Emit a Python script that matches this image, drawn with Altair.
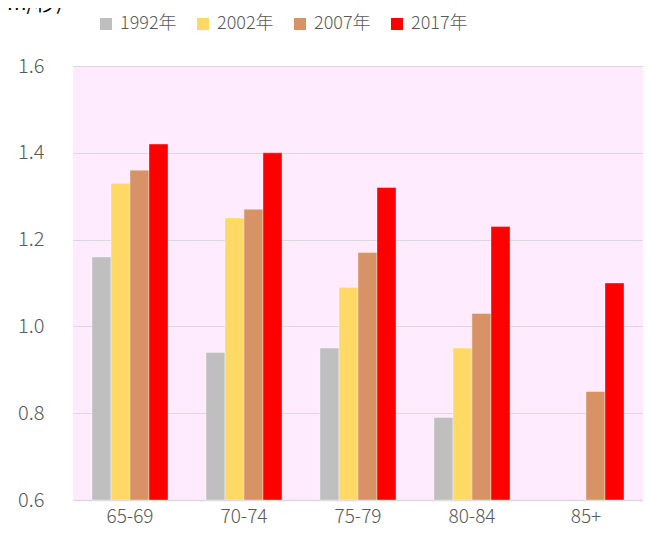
import altair as alt
import pandas as pd

categories = ["65-69", "70-74", "75-79", "80-84", "85+"]
series = ["1992年", "2002年", "2007年", "2017年"]
v1992 = [1.16, 0.94, 0.95, 0.79, None]
v2002 = [1.33, 1.25, 1.09, 0.95, None]
v2007 = [1.36, 1.27, 1.17, 1.03, 0.85]
v2017 = [1.42, 1.40, 1.32, 1.23, 1.10]
colors = ["#BFBFBF", "#FFD966", "#D79365", "#FF0000"]
y_ticks = [0.6, 0.8, 1.0, 1.2, 1.4, 1.6]
unit_label = ["(m/秒)"]

rows = []
for s, vals in zip(series, [v1992, v2002, v2007, v2017]):
    for c, v in zip(categories, vals):
        if v is not None:
            rows.append({"age": c, "series": s, "value": v})
df = pd.DataFrame(rows)

FONT = "Noto Sans CJK JP"
GRAY = "#595959"

bars = alt.Chart(df).mark_bar(stroke="white", strokeWidth=0.8, strokeOpacity=0.45).encode(
    x=alt.X("age:N", sort=categories,
            scale=alt.Scale(domain=categories, paddingInner=0.333, paddingOuter=0.1665),
            axis=alt.Axis(title=None, labelAngle=0, ticks=False, grid=False,
                          domainColor="#D9D9D9", domainWidth=1.5,
                          labelFont=FONT, labelFontSize=19, labelColor=GRAY,
                          labelFontWeight=300, labelPadding=7)),
    xOffset=alt.XOffset("series:N", sort=series,
                        scale=alt.Scale(domain=series, paddingInner=0, paddingOuter=0)),
    y=alt.Y("value:Q", scale=alt.Scale(domain=[0.6, 1.6], zero=False, nice=False),
            axis=alt.Axis(title=None, values=y_ticks, format=".1f", ticks=False, domain=False,
                          gridColor="#D9D9D9", gridWidth=1,
                          labelFont=FONT, labelFontSize=20, labelColor=GRAY,
                          labelFontWeight=300, labelPadding=29)),
    y2=alt.datum(0.6),
    color=alt.Color("series:N", sort=series,
                    scale=alt.Scale(domain=series, range=colors),
                    legend=alt.Legend(title=None, orient="none", legendX=24, legendY=-51,
                                      direction="horizontal", columns=4,
                                      symbolType="square", symbolSize=144,
                                      symbolStrokeWidth=0, labelFont=FONT,
                                      labelFontSize=18, labelColor=GRAY,
                                      labelFontWeight=300,
                                      columnPadding=17, labelOffset=5)),
)

unit = alt.Chart(pd.DataFrame({"t": unit_label})).mark_text(
    align="left", baseline="alphabetic", fontSize=21, font=FONT, color="black"
).encode(x=alt.value(-73), y=alt.value(-56), text="t:N")

chart = alt.layer(bars, unit).properties(
    width=570, height=434,
    autosize=alt.AutoSizeParams(type="none"),
    padding={"left": 65, "top": 58, "right": 0, "bottom": 29},
).configure_view(fill="#FFEBFD", stroke=None)

chart.save("out.html", embed_options={"renderer": "svg", "actions": False})
